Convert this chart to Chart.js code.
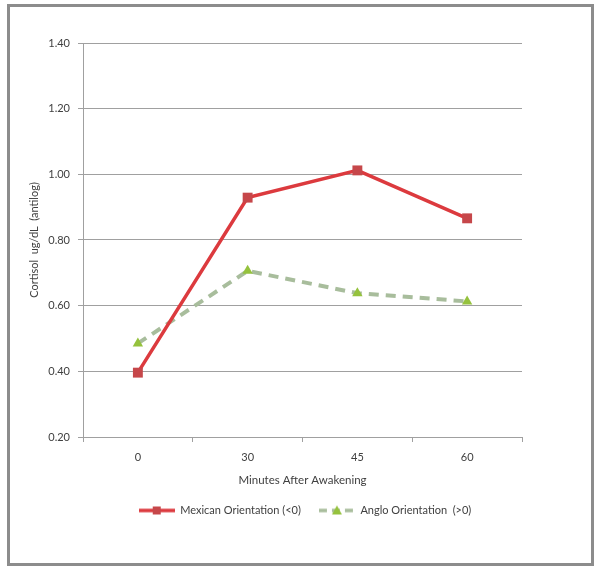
<!DOCTYPE html>
<html>
<head>
<meta charset="utf-8">
<script src="https://cdn.jsdelivr.net/npm/chart.js@4/dist/chart.umd.min.js"></script>
<style>
  body { margin: 0; background: #fff; }
  #wrap { position: relative; width: 600px; height: 572px; }
  #frame { position: absolute; left: 7px; top: 4px; width: 581px; height: 556px; border: 3px solid #8c8c8c; pointer-events: none; }
  canvas { position: absolute; left: 0; top: 0; }
</style>
</head>
<body>
<div id="wrap">
  <canvas id="chart" width="600" height="572"></canvas>
  <div id="frame"></div>
</div>
<script>
// data
const minutes = ['0', '30', '45', '60'];
const mexican = [0.396, 0.929, 1.012, 0.866];
const anglo = [0.485, 0.706, 0.638, 0.613];
const yTicks = [0.20, 0.40, 0.60, 0.80, 1.00, 1.20, 1.40];

const RED_LINE = '#dc3a3e';
const RED_MARK = '#c6474a';
const GREEN_LINE = '#a8bd9c';
const GREEN_MARK = '#95c23d';
const FONT = 'Lato, "Open Sans", sans-serif';

// small legend symbols: line segment with marker in the middle
function legendIcon(lineColor, markColor, dash, marker) {
    const c = document.createElement('canvas');
    c.width = 36; c.height = 12;
    const g = c.getContext('2d');
    g.strokeStyle = lineColor;
    g.lineWidth = 3.5;
    g.setLineDash(dash || []);
    g.beginPath(); g.moveTo(0, 6); g.lineTo(36, 6); g.stroke();
    g.fillStyle = markColor;
    if (marker === 'rect') {
        g.fillRect(14, 2, 8, 8);
    } else {
        g.beginPath(); g.moveTo(18, 1); g.lineTo(23, 10); g.lineTo(13, 10); g.closePath(); g.fill();
    }
    return c;
}

const iconMex = legendIcon(RED_LINE, RED_MARK, null, 'rect');
const iconAng = legendIcon(GREEN_LINE, GREEN_MARK, [8, 5], 'tri');

// the excel legend sits centred under the whole frame, not under the plot
const legendShift = {
    id: 'legendShift',
    afterLayout(chart) {
        chart.legend.left += 30;
        chart.legend.right += 30;
    }
};

new Chart(document.getElementById('chart'), {
    type: 'line',
    data: {
        labels: minutes,
        datasets: [{
            label: 'Mexican Orientation (<0)',
            data: mexican,
            borderColor: RED_LINE,
            backgroundColor: RED_MARK,
            borderWidth: 3.5,
            pointStyle: 'rect',
            pointRadius: 7,
            pointBorderWidth: 0,
            pointBackgroundColor: RED_MARK,
            tension: 0
        }, {
            label: 'Anglo Orientation  (>0)',
            data: anglo,
            borderColor: GREEN_LINE,
            backgroundColor: GREEN_MARK,
            borderWidth: 4,
            borderDash: [10, 7],
            pointStyle: 'triangle',
            pointRadius: 6,
            pointBorderWidth: 0,
            pointBackgroundColor: GREEN_MARK,
            tension: 0
        }]
    },
    plugins: [legendShift],
    options: {
        responsive: false,
        animation: false,
        layout: { padding: { left: 28, right: 78, top: 43, bottom: 46 } },
        plugins: {
            tooltip: { enabled: false },
            legend: {
                position: 'bottom',
                labels: {
                    usePointStyle: true,
                    pointStyleWidth: 36,
                    color: '#404040',
                    font: { family: FONT, size: 11 },
                    padding: 18,
                    generateLabels: chart => chart.data.datasets.map((ds, i) => ({
                        text: ds.label,
                        pointStyle: i === 0 ? iconMex : iconAng,
                        fillStyle: ds.backgroundColor,
                        strokeStyle: ds.borderColor,
                        lineWidth: 0,
                        hidden: false,
                        datasetIndex: i,
                        fontColor: '#404040'
                    }))
                }
            }
        },
        scales: {
            x: {
                offset: true,
                grid: { offset: true, drawOnChartArea: false, drawTicks: true, tickLength: 5, color: '#a0a0a0' },
                border: { color: '#a0a0a0' },
                ticks: { color: '#404040', font: { family: FONT, size: 11 }, padding: 9 },
                title: {
                    display: true,
                    text: 'Minutes After Awakening',
                    color: '#404040',
                    font: { family: FONT, size: 11.5 },
                    padding: { top: 0, bottom: 0 }
                }
            },
            y: {
                min: 0.2,
                max: 1.4,
                afterFit: s => { s.width = 55; },
                afterBuildTicks: s => { s.ticks = yTicks.map(v => ({ value: v })); },
                grid: { color: '#a0a0a0', tickLength: 5 },
                border: { color: '#a0a0a0' },
                ticks: {
                    color: '#404040',
                    font: { family: FONT, size: 11 },
                    padding: 8,
                    callback: v => v.toFixed(2)
                },
                title: {
                    display: true,
                    text: 'Cortisol  ug/dL  (antilog)',
                    color: '#404040',
                    font: { family: FONT, size: 11 },
                    padding: { top: 0, bottom: 0 }
                }
            }
        }
    }
});
</script>
</body>
</html>
